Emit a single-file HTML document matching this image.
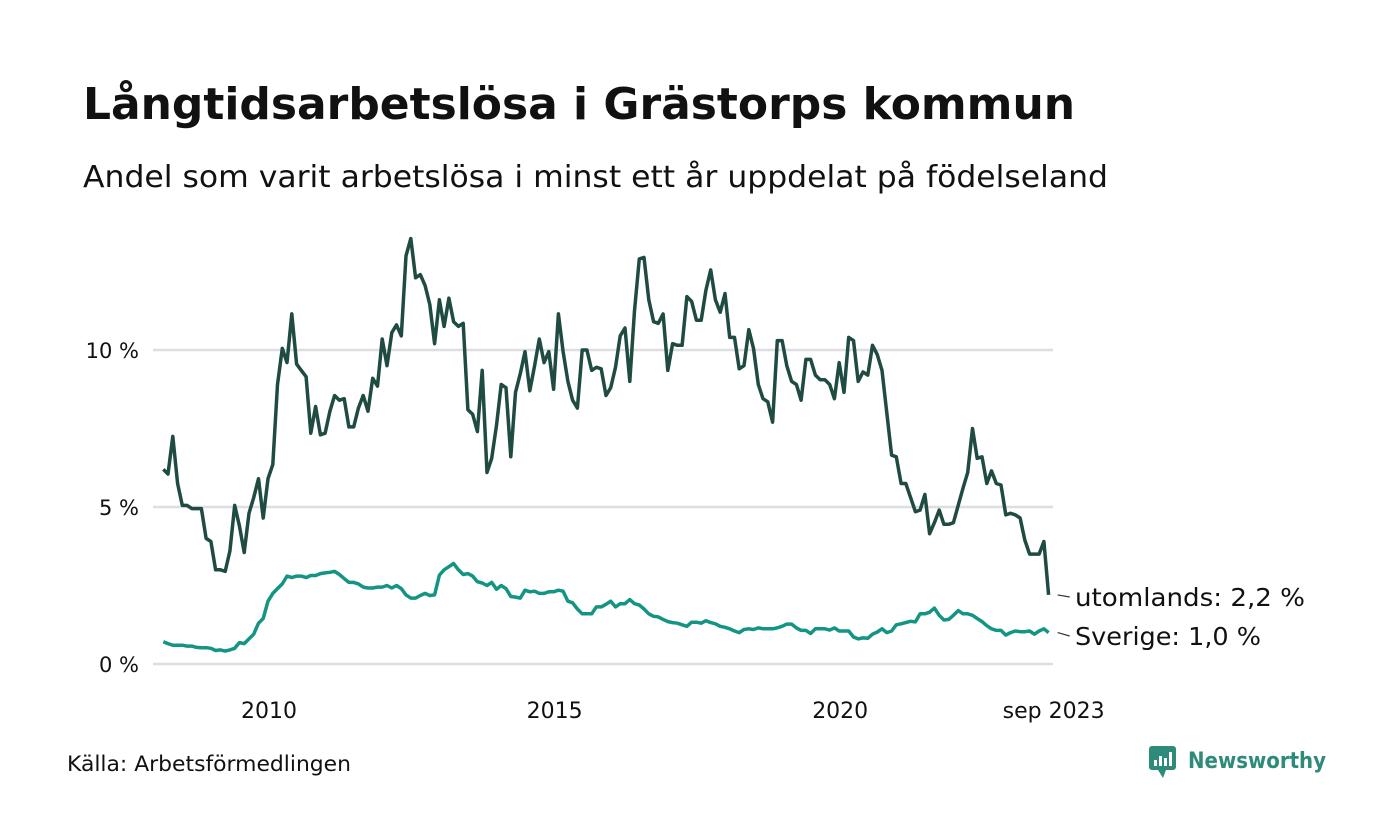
<!DOCTYPE html>
<html><head><meta charset="utf-8">
<style>
body{margin:0;background:#fff;}
#wrap{position:relative;width:1400px;height:840px;overflow:hidden;font-family:"Liberation Sans","DejaVu Sans",sans-serif;color:#111;}
svg text{font-family:"DejaVu Sans","Liberation Sans",sans-serif;}
</style></head>
<body>
<div id="wrap">
<svg id="chart" width="1400" height="840">
  <text x="83" y="119" font-size="44" font-weight="bold" fill="#111" textLength="992" lengthAdjust="spacingAndGlyphs">Långtidsarbetslösa i Grästorps kommun</text>
  <text x="83" y="187" font-size="30" fill="#111" textLength="1025" lengthAdjust="spacingAndGlyphs">Andel som varit arbetslösa i minst ett år uppdelat på födelseland</text>
  <g id="grid"></g>
  <g id="lines"></g>
  <g id="labels"></g>
  <text x="67" y="771" font-size="21" fill="#111" textLength="284" lengthAdjust="spacingAndGlyphs">Källa: Arbetsförmedlingen</text>
  <g>
    <rect x="1149" y="746" width="27" height="24" rx="3" fill="#2e8b7a"/>
    <path d="M1158 770 L1163 778 L1166 770 Z" fill="#2e8b7a"/>
    <rect x="1154" y="760" width="3" height="6" fill="#fff"/><rect x="1159" y="756" width="3" height="10" fill="#fff"/><rect x="1164" y="758" width="3" height="8" fill="#fff"/><rect x="1169" y="752" width="3" height="14" fill="#fff"/>
    <text x="1188" y="768" font-size="22" font-weight="bold" fill="#2e8b7a" textLength="138" lengthAdjust="spacingAndGlyphs">Newsworthy</text>
  </g>
</svg>
</div>
<script>
const yTicks = [0, 5, 10];
const yTickLabels = ["0 %", "5 %", "10 %"];
const xTickMonths = [0, 60, 120, 164];
const xTickLabels = ["2010", "2015", "2020", "sep 2023"];
const endMonth = 164; // Sep 2023, months since Jan 2010
const utomlands = [6.2,6.05,7.25,5.75,5.05,5.05,4.95,4.95,4.95,4.0,
3.9,3.0,3.0,2.95,3.6,5.05,4.4,3.55,4.8,5.3,
5.9,4.65,5.9,6.35,8.9,10.05,9.6,11.15,9.55,9.35,
9.15,7.35,8.2,7.3,7.35,8.05,8.55,8.4,8.45,7.55,
7.55,8.15,8.55,8.05,9.1,8.85,10.35,9.5,10.55,10.8,
10.45,13.0,13.55,12.3,12.4,12.05,11.45,10.2,11.6,10.75,
11.65,10.9,10.75,10.85,8.1,7.95,7.4,9.35,6.1,6.55,
7.6,8.9,8.8,6.6,8.65,9.25,9.95,8.7,9.5,10.35,
9.6,9.95,8.75,11.15,9.95,9.0,8.4,8.15,10.0,10.0,
9.35,9.45,9.4,8.55,8.8,9.45,10.45,10.7,9.0,11.25,
12.9,12.95,11.6,10.9,10.85,11.15,9.35,10.2,10.15,10.15,
11.7,11.55,10.95,10.95,11.9,12.55,11.6,11.2,11.8,10.4,
10.4,9.4,9.5,10.65,10.05,8.9,8.45,8.35,7.7,10.3,
10.3,9.5,9.0,8.9,8.4,9.7,9.7,9.2,9.05,9.05,
8.9,8.45,9.6,8.65,10.4,10.3,9.0,9.3,9.2,10.15,
9.85,9.35,8.0,6.65,6.6,5.75,5.75,5.3,4.85,4.9,
5.4,4.15,4.5,4.9,4.45,4.45,4.5,5.05,5.6,6.1,
7.5,6.55,6.6,5.75,6.15,5.75,5.7,4.75,4.8,4.75,
4.65,3.95,3.5,3.5,3.5,3.9,2.2];
const sverige = [0.71,0.65,0.6,0.6,0.6,0.57,0.57,0.53,0.52,0.52,
0.5,0.43,0.45,0.41,0.45,0.5,0.68,0.65,0.8,0.95,
1.3,1.45,2.0,2.25,2.4,2.55,2.8,2.75,2.8,2.8,
2.75,2.82,2.82,2.88,2.9,2.92,2.95,2.85,2.72,2.6,
2.6,2.55,2.45,2.42,2.42,2.45,2.45,2.5,2.42,2.5,
2.4,2.2,2.1,2.1,2.18,2.25,2.18,2.2,2.83,3.0,
3.1,3.2,3.0,2.85,2.88,2.8,2.62,2.58,2.5,2.6,
2.38,2.5,2.4,2.15,2.13,2.1,2.35,2.3,2.32,2.25,
2.25,2.3,2.3,2.35,2.32,2.0,1.95,1.75,1.6,1.6,
1.6,1.82,1.82,1.9,2.0,1.82,1.92,1.92,2.05,1.92,
1.88,1.75,1.6,1.52,1.5,1.42,1.35,1.32,1.3,1.25,
1.2,1.33,1.33,1.3,1.38,1.32,1.28,1.2,1.17,1.12,
1.05,1.0,1.1,1.12,1.1,1.15,1.12,1.12,1.12,1.15,
1.2,1.27,1.27,1.15,1.07,1.07,0.97,1.12,1.12,1.12,
1.08,1.15,1.05,1.05,1.05,0.86,0.8,0.83,0.82,0.95,
1.02,1.12,1.0,1.05,1.25,1.28,1.32,1.36,1.34,1.6,
1.6,1.65,1.78,1.55,1.4,1.42,1.55,1.7,1.6,1.6,
1.55,1.45,1.35,1.22,1.12,1.07,1.07,0.92,1.0,1.05,
1.03,1.03,1.05,0.95,1.05,1.12,1.0];
const NS = "http://www.w3.org/2000/svg";
const xScale = m => 268 + m * 4.76;
const yScale = v => 664 - v * 31.4;
const grid = document.getElementById('grid');
yTicks.forEach((t, i) => {
  const l = document.createElementNS(NS, 'line');
  l.setAttribute('x1', 153); l.setAttribute('x2', 1053);
  l.setAttribute('y1', yScale(t)); l.setAttribute('y2', yScale(t));
  l.setAttribute('stroke', '#dedde2'); l.setAttribute('stroke-width', 2.5);
  
  
  grid.appendChild(l);
  const tx = document.createElementNS(NS, 'text');
  tx.setAttribute('x', 139); tx.setAttribute('y', yScale(t) + 8);
  tx.setAttribute('text-anchor', 'end'); tx.setAttribute('font-size', 21); tx.setAttribute('fill', '#111');
  tx.textContent = yTickLabels[i];
  
  
  grid.appendChild(tx);
});
xTickMonths.forEach((m, i) => {
  const tx = document.createElementNS(NS, 'text');
  tx.setAttribute('x', xScale(m) + (i === 3 ? 5 : 1)); tx.setAttribute('y', 718);
  tx.setAttribute('text-anchor', 'middle'); tx.setAttribute('font-size', 22); tx.setAttribute('fill', '#111');
  tx.textContent = xTickLabels[i];
  
  
  grid.appendChild(tx);
});
const lines = document.getElementById('lines');
function drawSeries(vals, color, name) {
  const start = endMonth - (vals.length - 1);
  const d = vals.map((v, i) => (i ? 'L' : 'M') + xScale(start + i).toFixed(1) + ' ' + yScale(v).toFixed(1)).join(' ');
  const p = document.createElementNS(NS, 'path');
  p.setAttribute('d', d); p.setAttribute('fill', 'none'); p.setAttribute('stroke', color);
  p.setAttribute('stroke-width', 3.5); p.setAttribute('stroke-linejoin', 'round');
  
  
  lines.appendChild(p);
}
drawSeries(utomlands, '#1f4b43', 'line-utomlands');
drawSeries(sverige, '#149583', 'line-sverige');
const labels = document.getElementById('labels');
const endLabels = [["utomlands: 2,2 %", utomlands[utomlands.length-1], 597, 230], ["Sverige: 1,0 %", sverige[sverige.length-1], 636, 186]];
endLabels.forEach(([txt, v, ly, w]) => {
  const l = document.createElementNS(NS, 'path');
  l.setAttribute('d', `M${xScale(endMonth)+9} ${yScale(v)} L${xScale(endMonth)+21} ${ly}`);
  l.setAttribute('stroke', '#333'); l.setAttribute('stroke-width', 1.2); l.setAttribute('fill', 'none');
  
  
  labels.appendChild(l);
  const tx = document.createElementNS(NS, 'text');
  tx.setAttribute('x', 1075); tx.setAttribute('y', ly + 9);
  tx.setAttribute('font-size', 25); tx.setAttribute('fill', '#111');
  tx.setAttribute('textLength', w); tx.setAttribute('lengthAdjust', 'spacingAndGlyphs');
  tx.textContent = txt;
  
  
  labels.appendChild(tx);
});
</script>
</body></html>
